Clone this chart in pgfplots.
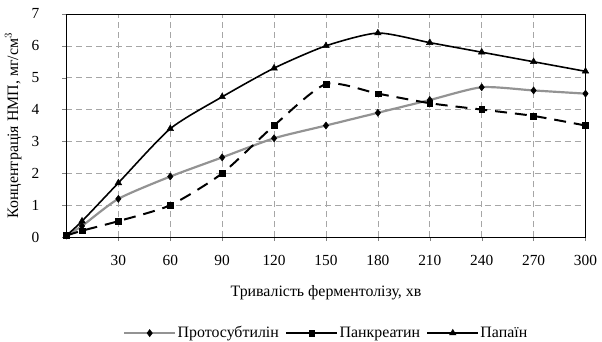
\documentclass[border=0pt]{standalone}
\usepackage{fontspec}
\setmainfont{Liberation Serif}
\usepackage{pgfplots}
\pgfplotsset{compat=1.18}
\begin{document}
\fontsize{15}{17}\selectfont
\begin{tikzpicture}
\begin{axis}[
  scale only axis,
  width=521bp, height=224bp,
  xmin=0, xmax=300, ymin=0, ymax=7,
  xtick={30,60,...,300},
  ytick={0,1,...,7},
  tick align=outside,
  xtick pos=bottom, ytick pos=left,
  major tick length=4bp,
  grid=major,
  major grid style={gray!70, dash pattern=on 6bp off 4bp, line width=0.6pt},
  axis line style={line width=0.8pt},
  /pgf/number format/assume math mode=true,
  tick label style={font=\fontsize{15.5}{17}\selectfont},
  xticklabel style={yshift=-9bp},
  yticklabel style={xshift=-18bp},
  xlabel={Тривалість ферментолізу, хв},
  ylabel={Концентрація НМП, мг/см$^3$},
  label style={font=\fontsize{16}{18}\selectfont},
  xlabel style={yshift=-10bp},
  ylabel style={yshift=0bp},
  legend style={draw=none, at={(0.5,-0.39)}, anchor=north, legend columns=-1,
    font=\fontsize{16}{18}\selectfont, inner sep=0pt,
    nodes={inner xsep=1.5bp},
    /tikz/every even column/.append style={column sep=5bp}},
  legend image code/.code={\draw[mark repeat=2,mark phase=2,#1,solid] plot coordinates {(0,0) (0.9cm,0) (1.8cm,0)};},
]
\addplot[gray!85, line width=2.2pt, smooth, tension=0.4, mark=diamond*, mark size=3.6pt, mark options={black, fill=black, solid, line width=0.5pt}]
coordinates {(0,0.05) (9,0.35) (30,1.2) (60,1.9) (90,2.5) (120,3.1) (150,3.5) (180,3.9) (210,4.3) (240,4.7) (270,4.6) (300,4.5)};
\addlegendentry{Протосубтилін}
\addplot[black, line width=2pt, dash pattern=on 12bp off 8bp, smooth, tension=0.4, mark=square*, mark size=2.9pt, mark options={black, fill=black, solid, line width=0.5pt}]
coordinates {(0,0.05) (9,0.2) (30,0.5) (60,1.0) (90,2.0) (120,3.5) (150,4.8) (180,4.5) (210,4.2) (240,4.0) (270,3.8) (300,3.5)};
\addlegendentry{Панкреатин}
\addplot[black, line width=1.6pt, smooth, tension=0.4, mark=triangle*, mark size=3.8pt, mark options={black, fill=black, solid, line width=0.5pt}]
coordinates {(0,0.05) (9,0.5) (30,1.7) (60,3.4) (90,4.4) (120,5.3) (150,6.0) (180,6.4) (210,6.1) (240,5.8) (270,5.5) (300,5.2)};
\addlegendentry{Папаїн}
\end{axis}
\path (current axis.north) ++(0,14bp) coordinate (toppad);
\end{tikzpicture}
\end{document}
